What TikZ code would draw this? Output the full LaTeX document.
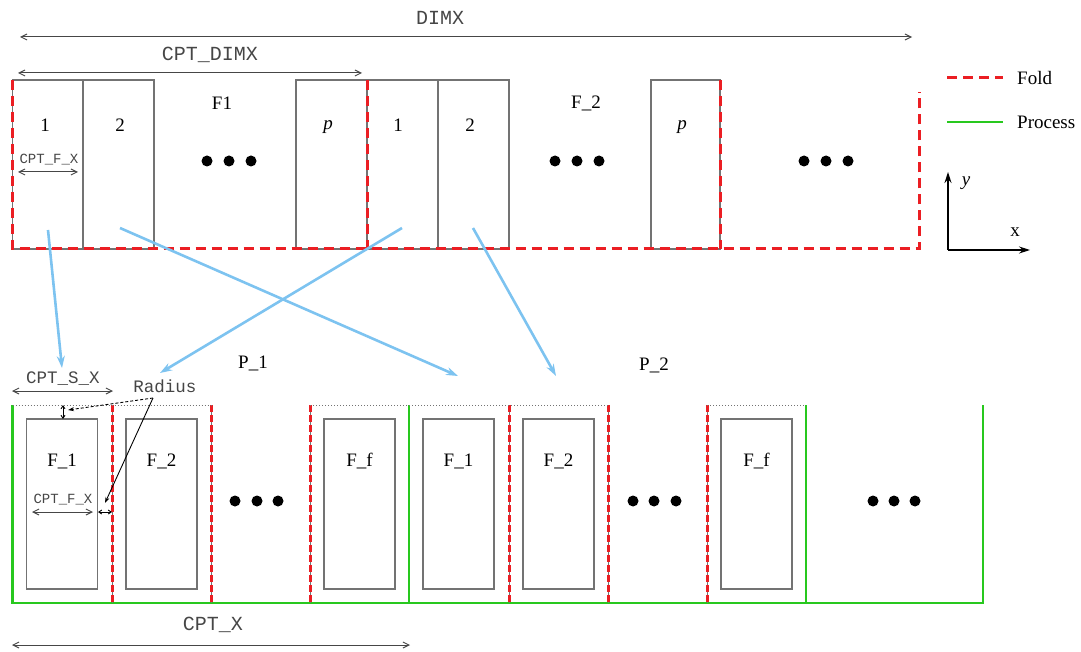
\documentclass[tikz,border=0pt]{standalone}
\usepackage{fontspec}
\setmainfont{Liberation Serif}
\setmonofont{Liberation Mono}
\usetikzlibrary{arrows.meta}
\definecolor{foldred}{RGB}{235,30,35}
\definecolor{procgreen}{RGB}{40,200,30}
\definecolor{mapblue}{RGB}{125,195,240}
\definecolor{boxgray}{RGB}{115,115,115}
\definecolor{dimgray}{RGB}{70,70,70}

\begin{document}
\begin{tikzpicture}[x=1pt, y=-1pt,
			fold/.style={draw=foldred, line width=3pt, dash pattern=on 10pt off 6pt},
			foldslot/.style={draw=foldred, line width=3pt, dash pattern=on 7pt off 3pt},
			process/.style={draw=procgreen, line width=2.8pt},
			cell/.style={draw=boxgray, line width=1.1pt},
			slottop/.style={draw=boxgray, line width=0.9pt, dash pattern=on 1pt off 2pt},
			fbox/.style={
				rectangle,
				draw=boxgray,
				line width=1.1pt,
				minimum width=71pt,
				minimum height=170pt,
				inner sep=0pt
			},
			lbl/.style={font=\fontsize{19}{21}\selectfont, inner sep=0pt},
			dimlbl/.style={font=\ttfamily\fontsize{20}{22}\selectfont, text=dimgray, inner sep=0pt},
			middim/.style={font=\ttfamily\fontsize{17.5}{19}\selectfont, text=dimgray, inner sep=0pt},
			smalldim/.style={font=\ttfamily\fontsize{14}{16}\selectfont, text=dimgray, inner sep=0pt},
			dim/.style={{Straight Barb[length=6pt,width=6pt]}-{Straight Barb[length=6pt,width=6pt]}, draw=dimgray, line width=1pt},
			tinydim/.style={{Straight Barb[length=3pt,width=4pt]}-{Straight Barb[length=3pt,width=4pt]}, draw=black, line width=0.9pt},
			pointer/.style={-{Stealth[length=6pt,width=4pt]}, line width=0.9pt},
			map/.style={-{Stealth[length=12pt,width=8pt]}, draw=mapblue, line width=2.6pt},
			axis/.style={-{Stealth[length=11pt,width=7pt]}, line width=1.2pt},
			dot/.style={circle, fill=black, inner sep=0pt, minimum size=11pt}
			]
			\useasboundingbox (0,0) rectangle (1081,652);
			
			% top: folds of the domain
			\foreach \l/\r in {12.7/83, 83/154, 296/367, 367/438, 438/509, 651/720}
				\draw[cell] (\l,80) rectangle (\r,249);
			\draw[fold] (12.7,80) -- (12.7,249) -- (919,249) -- (919,92);
			\draw[fold] (367,80) -- (367,249);
			\draw[fold] (720,80) -- (720,249);
			
			\node[lbl] (c11) at (45,125) {1};
			\node[lbl] (c12) at (120,125) {2};
			\node[lbl] (f1) at (222,103) {F1};
			\node[lbl] (c1p) at (328,127) {\itshape p};
			\node[lbl] (c21) at (398,125) {1};
			\node[lbl] (c22) at (470,125) {2};
			\node[lbl] (f2) at (586,103) {F\_2};
			\node[lbl] (c2p) at (682,127) {\itshape p};
			
			\foreach \x [count=\i] in {207,229,251,555,577,599,804,826,848}
				\node[dot] (td\i) at (\x,161) {};
			
			% dimensions on top
			\coordinate (dimxL) at (20,37);
			\coordinate (dimxR) at (912,37);
			\draw[dim] (dimxL) -- (dimxR);
			\node[dimlbl] (dimx) at (440,18) {DIMX};
			
			\coordinate (cdimL) at (18,73);
			\coordinate (cdimR) at (362,73);
			\draw[dim] (cdimL) -- (cdimR);
			\node[dimlbl] (cdim) at (210,55) {CPT\_DIMX};
			
			\coordinate (cfxL) at (18,172);
			\coordinate (cfxR) at (78,172);
			\draw[dim] (cfxL) -- (cfxR);
			\node[smalldim] (cfx) at (49,160) {CPT\_F\_X};
			
			% legend and axes
			\coordinate (legfa) at (947,78);
			\coordinate (legfb) at (1003,78);
			\draw[fold] (legfa) -- (legfb);
			\node[lbl, anchor=west] (legf) at (1017,78) {Fold};
			\coordinate (legpa) at (947,122);
			\coordinate (legpb) at (1003,122);
			\draw[process] (legpa) -- (legpb);
			\node[lbl, anchor=west] (legp) at (1017,122) {Process};
			
			\coordinate (orig) at (948,250);
			\coordinate (yend) at (948,172);
			\coordinate (xend) at (1030,250);
			\draw[axis] (orig) -- (yend);
			\draw[axis] (orig) -- (xend);
			\node[lbl] (ylab) at (966,183) {\itshape y};
			\node[lbl] (xlab) at (1015,232) {x};
			
			% bottom: processes
			\draw[process] (12.7,405) -- (12.7,603) -- (983,603) -- (983,405);
			\foreach \x in {409,806}
				\draw[process] (\x,405) -- (\x,603);
			\foreach \x in {112,211,310,509,608,707} {
				\draw[cell, line width=0.6pt] (\x,405) -- (\x,603);
				\draw[foldslot] (\x,405) -- (\x,603);
			}
			\draw[slottop] (12.7,405) -- (211,405) (310,405) -- (608,405) (707,405) -- (806,405);
			
			\foreach \s/\t/\n in {12.7/F\_1/a, 112/F\_2/b, 310/F\_f/c, 409/F\_1/d, 509/F\_2/e, 707/F\_f/f} {
				\node[fbox] (box\n) at (\s+49.5,504) {};
				\node[lbl] (lab\n) at ([yshift=-43pt]box\n.north) {\t};
			}
			
			\foreach \x [count=\i] in {235,257,278,633,654,676,873,894,915}
				\node[dot] (bd\i) at (\x,501) {};
			
			\node[lbl] (p1) at (253,363) {P\_1};
			\node[lbl] (p2) at (654,365) {P\_2};
			
			% dimensions on bottom
			\coordinate (csxL) at (12,391);
			\coordinate (csxR) at (113,391);
			\draw[dim] (csxL) -- (csxR);
			\node[middim] (csx) at (63,379) {CPT\_S\_X};
			
			\coordinate (rvT) at (63,405);
			\coordinate (rvB) at (63,419);
			\draw[tinydim] (rvT) -- (rvB);
			\coordinate (rhL) at (98,512);
			\coordinate (rhR) at (112,512);
			\draw[tinydim] (rhL) -- (rhR);
			
			\coordinate (bfxL) at (32,512);
			\coordinate (bfxR) at (93,512);
			\draw[dim] (bfxL) -- (bfxR);
			\node[smalldim] (bfx) at (63,500) {CPT\_F\_X};
			
			\node[middim] (rad) at (165,386) {Radius};
			\coordinate (radfoot) at (153,398);
			\coordinate (radv) at (68,410);
			\coordinate (radh) at (105,503);
			\draw[pointer, densely dashed] (radfoot) -- (radv);
			\draw[pointer] (radfoot) -- (radh);
			
			\coordinate (cxL) at (12,645);
			\coordinate (cxR) at (410,645);
			\draw[dim] (cxL) -- (cxR);
			\node[dimlbl] (cx) at (213,625) {CPT\_X};
			
			% mapping of folds to processes
			\coordinate (m1a) at (48,230);
			\coordinate (m1b) at (62,368);
			\coordinate (m2a) at (120,228);
			\coordinate (m2b) at (458,376);
			\coordinate (m3a) at (402,228);
			\coordinate (m3b) at (160,373);
			\coordinate (m4a) at (473,228);
			\coordinate (m4b) at (556,376);
			\draw[map] (m1a) -- (m1b);
			\draw[map] (m2a) -- (m2b);
			\draw[map] (m3a) -- (m3b);
			\draw[map] (m4a) -- (m4b);
			
		\end{tikzpicture}
\end{document}
